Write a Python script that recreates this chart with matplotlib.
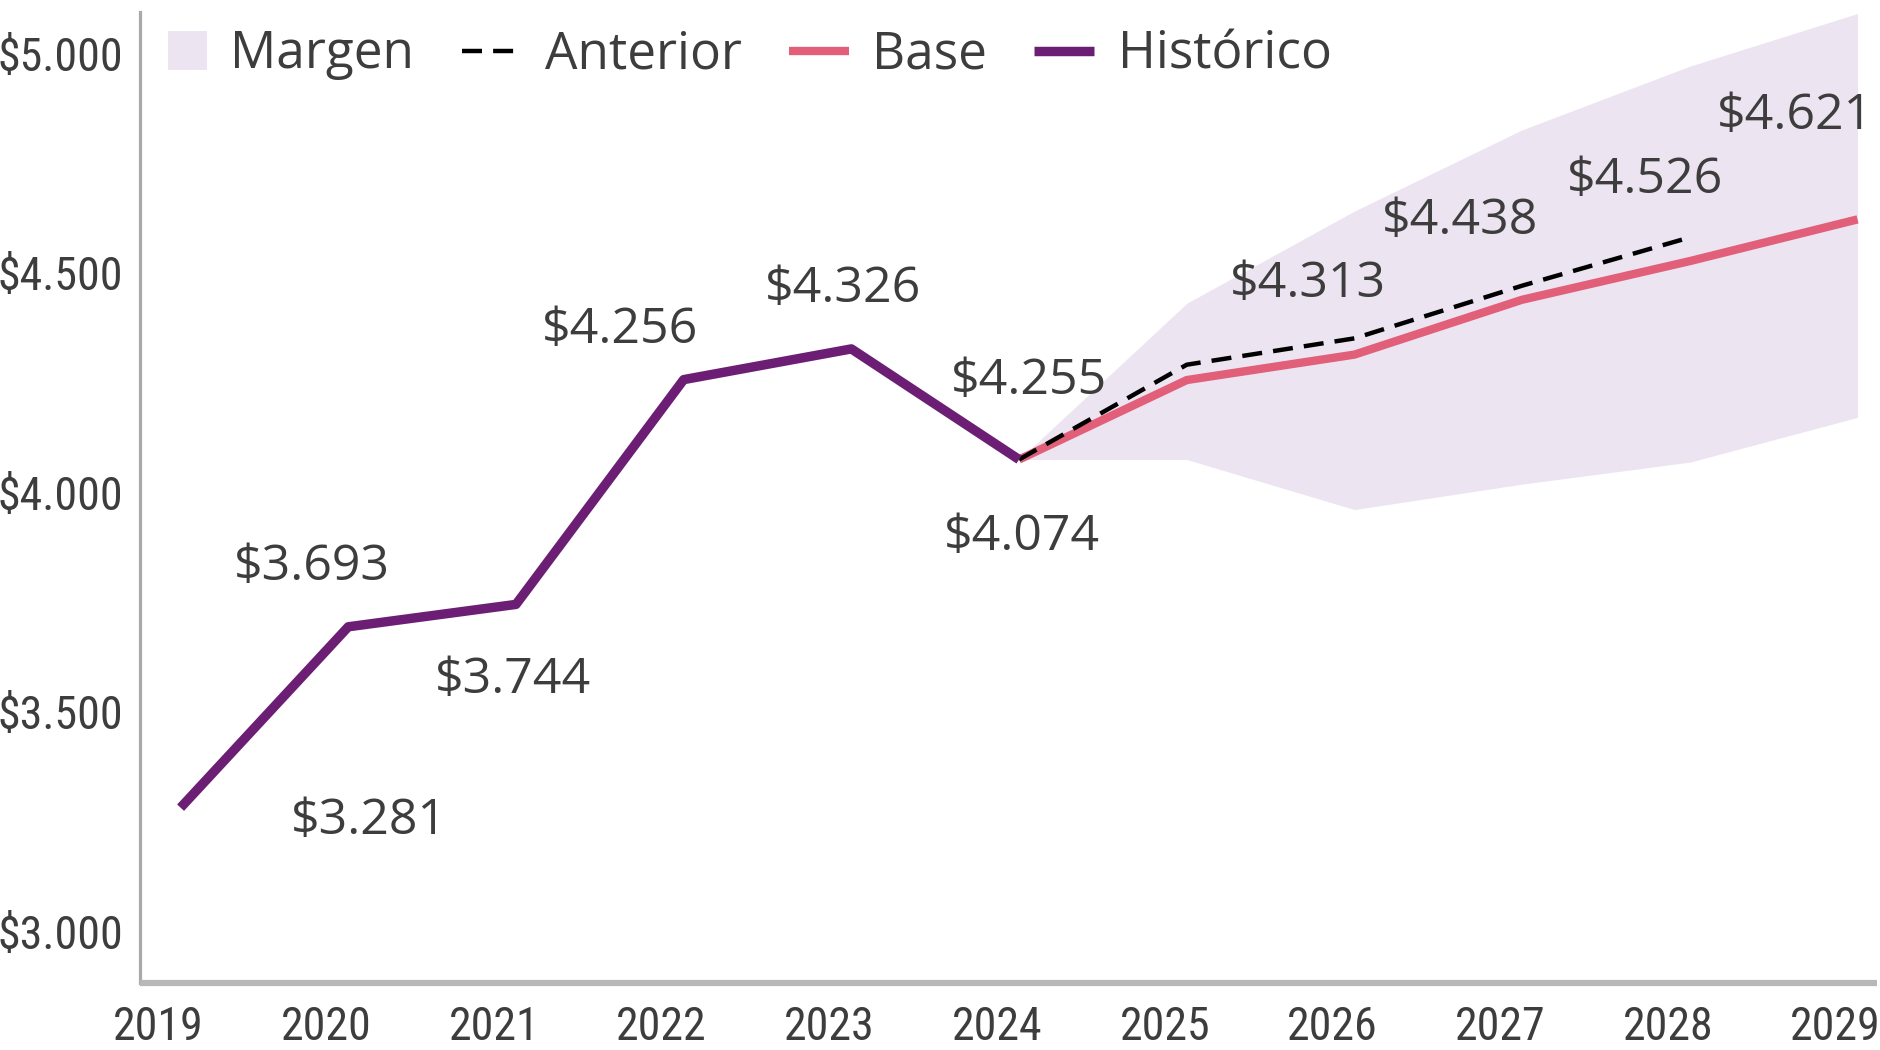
import matplotlib
matplotlib.use("Agg")
import matplotlib.pyplot as plt
from matplotlib import font_manager as fm
from matplotlib.patches import Rectangle, Patch
from matplotlib.legend_handler import HandlerPatch
from matplotlib.transforms import ScaledTranslation

# ---- data ----
hist_years = [2019, 2020, 2021, 2022, 2023, 2024]
hist_values = [3281, 3693, 3744, 4256, 4326, 4074]

base_years = [2024, 2025, 2026, 2027, 2028, 2029]
base_values = [4074, 4255, 4313, 4438, 4526, 4621]

prev_years = [2024, 2025, 2026, 2027, 2028]
prev_values = [4074, 4290, 4350, 4470, 4580]

band_years = [2024, 2025, 2026, 2027, 2028, 2029]
band_low = [4074, 4074, 3960, 4018, 4068, 4170]
band_high = [4074, 4430, 4640, 4825, 4970, 5090]

year_ticks = list(range(2019, 2030))
y_ticks = [3000, 3500, 4000, 4500, 5000]

# label offsets (pixels) for value labels
hist_label_off = [(188, -14), (-36, 60), (-3, -76), (-64, 49), (-8, 60), (3, -78)]
base_label_off = [(-158, -1), (-47, 70), (-62, 78), (-45, 81), (-63, 103)]

# ---- fonts ----
names = {f.name for f in fm.fontManager.ttflist}
tick_font = next((n for n in ["Liberation Sans Narrow", "Roboto Condensed", "Open Sans"] if n in names), "DejaVu Sans")
label_font = "Open Sans" if "Open Sans" in names else "DejaVu Sans"

PURPLE = "#6b1e73"
PINK = "#e15f79"
BAND = "#ede4f1"
TXT = "#3d3d3d"


def fmt(v):
    return "$" + f"{v:,}".replace(",", ".")


fig = plt.figure(figsize=(18.8, 10.5), dpi=100)
ax = fig.add_axes([140 / 1880, 1 - 983 / 1050, (1877 - 140) / 1880, (983 - 12) / 1050])

ax.fill_between(band_years, band_low, band_high, color=BAND, lw=0, zorder=1)
ax.plot(base_years, base_values, color=PINK, lw=6, solid_capstyle="butt", label="Base", zorder=3)
ax.plot(prev_years, prev_values, color="black", lw=3.2, ls=(0, (4.5, 2.5)), label="Anterior", zorder=4)
ax.plot(hist_years, hist_values, color=PURPLE, lw=6.8, solid_capstyle="butt", label="Histórico", zorder=5)

for x, v, off in zip(hist_years, hist_values, hist_label_off):
    ax.annotate(fmt(v), (x, v), xytext=off, textcoords="offset pixels", ha="center", va="center",
                fontsize=36, color=TXT, family=label_font, zorder=6)
for x, v, off in zip(base_years[1:], base_values[1:], base_label_off):
    ax.annotate(fmt(v), (x, v), xytext=off, textcoords="offset pixels", ha="center", va="center",
                fontsize=36, color=TXT, family=label_font, zorder=6)

ax.set_xlim(2018.758, 2029.116)
ax.set_ylim(2881.6, 5093.4)

ax.set_xticks(year_ticks)
ax.set_xticklabels([str(y) for y in year_ticks], fontsize=33, color=TXT, family=tick_font)
ax.set_yticks(y_ticks)
ax.set_yticklabels([fmt(v) for v in y_ticks], fontsize=33, color=TXT, family=tick_font)
ax.tick_params(axis="x", length=0, pad=16)
ax.tick_params(axis="y", length=0, pad=12)
shift = ScaledTranslation(-22 / 100, 0, fig.dpi_scale_trans)
for lab in ax.get_xticklabels():
    lab.set_transform(lab.get_transform() + shift)

for s in ["top", "right"]:
    ax.spines[s].set_visible(False)
ax.spines["left"].set_color("#a9a9a9")
ax.spines["left"].set_linewidth(2.3)
ax.spines["bottom"].set_color("#b8b8b8")
ax.spines["bottom"].set_linewidth(4.5)
ax.spines["bottom"].set_capstyle("butt")


def square_patch(legend, orig_handle, xdescent, ydescent, width, height, fontsize):
    side = height * 1.1
    return Rectangle((-xdescent + width - side, -ydescent - (side - height) / 2), side, side)


h, l = ax.get_legend_handles_labels()
hd = dict(zip(l, h))
margen_proxy = Patch(facecolor=BAND, edgecolor="none")
hd["Margen"] = margen_proxy
order = ["Margen", "Anterior", "Base", "Histórico"]
leg = fig.legend([hd[k] for k in order], order, loc="center left",
                 bbox_to_anchor=(147 / 1880, 1 - 55 / 1050), ncol=4, frameon=False,
                 prop={"family": label_font, "size": 37}, handlelength=1.17, handletextpad=0.45,
                 columnspacing=0.92, borderpad=0, borderaxespad=0,
                 handler_map={margen_proxy: HandlerPatch(patch_func=square_patch)})
for t in leg.get_texts():
    t.set_color(TXT)

fig.savefig("out.png", dpi=100, facecolor="white")
